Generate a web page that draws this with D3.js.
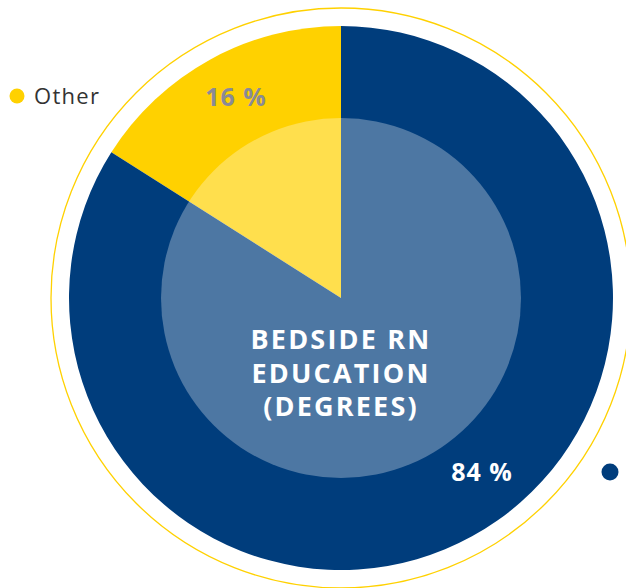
<!DOCTYPE html>
<html lang="en">
<head>
  <meta charset="utf-8" />
  <title>Bedside RN Education</title>
  <script src="https://cdn.jsdelivr.net/npm/d3@7"></script>
  <style>
body{
  margin: 0;
  background: #ffffff;
  overflow: hidden;
}
svg{
  display: block;
  font-family: 'Open Sans', 'Lato', sans-serif;
}
  </style>
</head>
<body>
  <svg></svg>
  <script>
  // chart data
  const categories = ['Other', 'Degree'];
  const shares = [16, 84];
  const sliceColors = ['#ffd100', '#003d7c'];
  const labelColors = ['#8a8a96', '#ffffff'];
  const centerLines = ['BEDSIDE RN', 'EDUCATION', '(DEGREES)'];

  const width = 626, height = 588;
  const cx = 341, cy = 298;
  const radius = 272, ringRadius = 290, innerRadius = 180;

  const svg = d3.select('svg')
      .attr('width', width)
      .attr('height', height);

  const slices = categories.map((c, i) => ({name: c, value: shares[i], color: sliceColors[i], label: labelColors[i]}));

  // yellow slice runs counter-clockwise from 12 o'clock
  const pie = d3.pie()
      .value(d => d.value)
      .sort(null)
      .startAngle(-2 * Math.PI * shares[0] / 100)
      .endAngle(2 * Math.PI - 2 * Math.PI * shares[0] / 100);

  const arc = d3.arc().innerRadius(0).outerRadius(radius);

  const g = svg.append('g').attr('transform', `translate(${cx},${cy})`);

  g.append('circle')
      .attr('r', ringRadius)
      .attr('fill', 'none')
      .attr('stroke', '#ffd100')
      .attr('stroke-width', 1.3);

  const arcs = pie(slices);

  g.selectAll('path.slice')
    .data(arcs)
    .enter().append('path')
      .attr('class', 'slice')
      .attr('d', arc)
      .attr('fill', d => d.data.color);

  g.append('circle')
      .attr('r', innerRadius)
      .attr('fill', '#ffffff')
      .attr('fill-opacity', 0.3);

  // percentage labels (radius, angle from 12 o'clock)
  const labelPos = [
    {r: 227, a: -0.481},
    {r: 224, a: 2.461}
  ];
  g.selectAll('text.pct')
    .data(arcs)
    .enter().append('text')
      .attr('class', 'pct')
      .attr('x', (d, i) => labelPos[i].r * Math.sin(labelPos[i].a))
      .attr('y', (d, i) => -labelPos[i].r * Math.cos(labelPos[i].a))
      .attr('text-anchor', 'middle')
      .attr('dy', '0.35em')
      .attr('font-size', 25)
      .attr('font-weight', 'bold')
      .attr('letter-spacing', 1)
      .attr('fill', d => d.data.label)
      .text(d => d.data.value + ' %');

  g.selectAll('text.center')
    .data(centerLines)
    .enter().append('text')
      .attr('class', 'center')
      .attr('x', 0)
      .attr('y', (d, i) => 51 + i * 33.5)
      .attr('text-anchor', 'middle')
      .attr('font-size', 27)
      .attr('font-weight', 'bold')
      .attr('letter-spacing', 2.2)
      .attr('fill', '#ffffff')
      .text(d => d);

  // legend
  svg.append('circle')
      .attr('cx', 17).attr('cy', 96).attr('r', 7.5)
      .attr('fill', sliceColors[0]);
  svg.append('text')
      .attr('x', 34).attr('y', 104)
      .attr('font-size', 22)
      .attr('letter-spacing', 1.3)
      .attr('fill', '#333333')
      .text(categories[0]);

  svg.append('circle')
      .attr('cx', 610).attr('cy', 472).attr('r', 8.5)
      .attr('fill', sliceColors[1]);
  </script>
</body>
</html>
